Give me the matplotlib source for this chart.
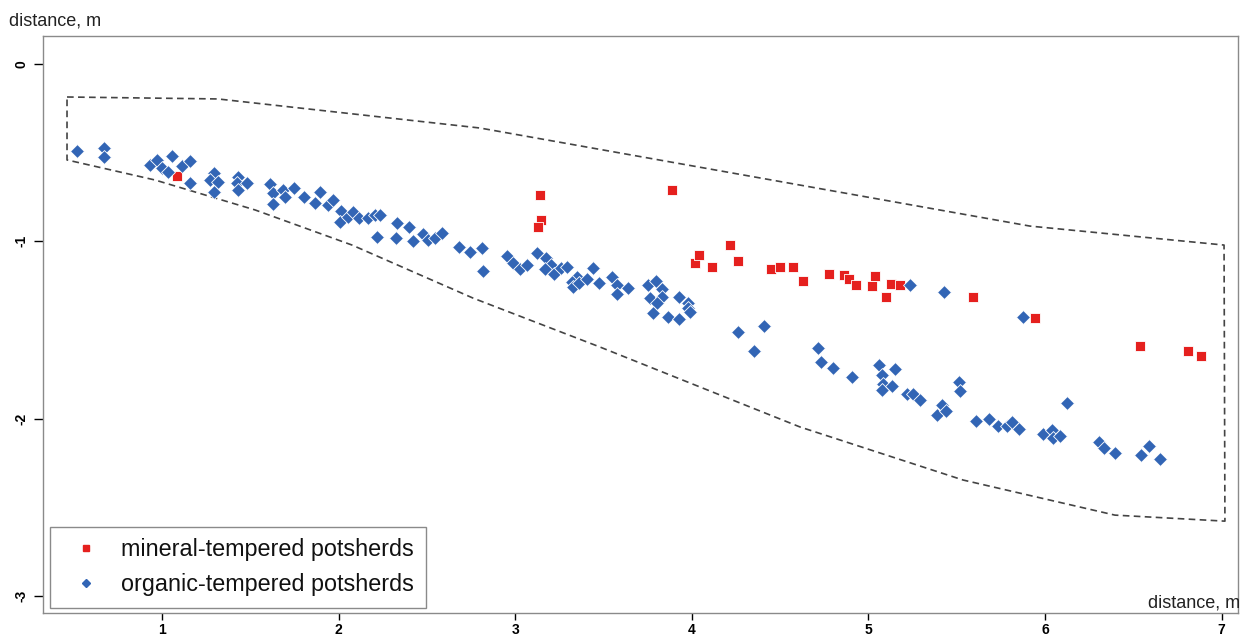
import matplotlib
matplotlib.use("Agg")
import matplotlib.pyplot as plt
from matplotlib.lines import Line2D

plt.rcParams['font.family'] = ['Liberation Sans', 'DejaVu Sans']

# organic-tempered potsherds (blue diamonds)
org_x = [0.517, 0.672, 0.673, 0.932, 0.970, 0.998, 1.055, 1.036, 1.112, 1.159, 1.157,
         1.296, 1.272, 1.319, 1.296, 1.432, 1.423, 1.480, 1.429, 1.612, 1.630, 1.687,
         1.696, 1.630, 1.749, 1.806, 1.895, 1.866, 1.940, 1.970, 2.016, 2.008, 2.055,
         2.083, 2.117, 2.168, 2.206, 2.234, 2.219, 2.329, 2.325, 2.400, 2.420, 2.476,
         2.505, 2.546, 2.584, 2.683, 2.744, 2.810, 2.816, 2.955, 2.989, 3.027, 3.065,
         3.125, 3.176, 3.204, 3.169, 3.218, 3.259, 3.292, 3.348, 3.320, 3.329, 3.363,
         3.405, 3.439, 3.476, 3.546, 3.575, 3.578, 3.640, 3.750, 3.797, 3.830, 3.763,
         3.830, 3.805, 3.782, 3.864, 3.929, 3.980, 3.980, 3.990, 3.929, 4.263, 4.351,
         4.411, 4.715, 4.730, 4.801, 4.907, 5.058, 5.075, 5.080, 5.075, 5.133, 5.152,
         5.220, 5.251, 5.290, 5.417, 5.390, 5.438, 5.511, 5.520, 5.609, 5.682, 5.735,
         5.783, 5.811, 5.854, 5.987, 6.038, 6.045, 6.085, 6.123, 6.305, 6.332, 6.398,
         6.542, 6.589, 6.651, 5.236, 5.428, 5.874]
org_y = [-0.489, -0.475, -0.522, -0.570, -0.541, -0.584, -0.519, -0.607, -0.575, -0.547, -0.673,
         -0.616, -0.654, -0.664, -0.720, -0.636, -0.673, -0.669, -0.711, -0.679, -0.729, -0.711,
         -0.752, -0.790, -0.701, -0.748, -0.719, -0.782, -0.795, -0.767, -0.829, -0.889, -0.863,
         -0.833, -0.870, -0.870, -0.852, -0.852, -0.974, -0.898, -0.980, -0.918, -0.997, -0.961,
         -0.993, -0.983, -0.955, -1.034, -1.059, -1.039, -1.168, -1.083, -1.121, -1.158, -1.134,
         -1.068, -1.096, -1.134, -1.158, -1.187, -1.152, -1.143, -1.200, -1.228, -1.256, -1.237,
         -1.213, -1.152, -1.237, -1.200, -1.246, -1.297, -1.262, -1.246, -1.222, -1.271, -1.321,
         -1.312, -1.350, -1.406, -1.425, -1.316, -1.346, -1.378, -1.397, -1.438, -1.509, -1.619,
         -1.479, -1.604, -1.679, -1.712, -1.765, -1.695, -1.752, -1.805, -1.839, -1.816, -1.722,
         -1.863, -1.862, -1.897, -1.923, -1.980, -1.956, -1.796, -1.843, -2.014, -2.001, -2.042,
         -2.039, -2.019, -2.060, -2.089, -2.064, -2.108, -2.098, -1.914, -2.132, -2.168, -2.194,
         -2.205, -2.155, -2.227, -1.248, -1.286, -1.425]

# mineral-tempered potsherds (red squares)
min_x = [1.082, 3.138, 3.146, 3.131, 3.886, 4.018, 4.042, 4.117, 4.215, 4.262, 4.450,
         4.499, 4.575, 4.631, 4.777, 4.863, 4.888, 4.930, 5.019, 5.037, 5.101, 5.128,
         5.181, 5.591, 5.945, 6.538, 6.811, 6.885]
min_y = [-0.630, -0.740, -0.878, -0.921, -0.711, -1.122, -1.078, -1.147, -1.023, -1.109, -1.157,
         -1.145, -1.147, -1.222, -1.182, -1.192, -1.210, -1.248, -1.251, -1.197, -1.312, -1.242,
         -1.248, -1.316, -1.435, -1.591, -1.619, -1.644]

# dashed boundary polygon
bound_x = [0.462, 1.317, 2.801, 5.915, 7.014, 7.019, 6.396, 5.536, 4.613, 3.480,
           2.761, 2.076, 1.527, 0.960, 0.462, 0.462]
bound_y = [-0.186, -0.197, -0.361, -0.914, -1.021, -2.578, -2.544, -2.346, -2.047, -1.596,
           -1.320, -1.021, -0.823, -0.654, -0.541, -0.186]

x_ticks = [1, 2, 3, 4, 5, 6, 7]
y_ticks = [0, -1, -2, -3]
labels = ["mineral-tempered potsherds", "organic-tempered potsherds"]

BLUE = "#3265B5"
RED = "#E5201E"

W, H = 1241, 636
fig = plt.figure(figsize=(W / 100, H / 100), dpi=100)
ax = fig.add_axes([43 / W, 1 - 613 / H, (1238 - 43) / W, (613 - 36) / H])

ax.plot(bound_x, bound_y, color="#444444", lw=1.2, linestyle=(0, (4, 2.6)), zorder=1)
ax.scatter(min_x, min_y, marker="s", s=60, color=RED, edgecolors="white",
           linewidths=0.6, zorder=2)
ax.scatter(org_x, org_y, marker="D", s=50, color=BLUE, edgecolors="white",
           linewidths=0.6, zorder=3)

ax.set_xlim(0.326, 7.093)
ax.set_ylim(-3.096, 0.158)

ax.set_xticks(x_ticks)
ax.set_xticklabels([str(v) for v in x_ticks], fontweight="bold", fontsize=10)
ax.set_yticks(y_ticks)
ax.set_yticklabels([str(v) for v in y_ticks], fontweight="bold", fontsize=10,
                   rotation=90, va="center")
ax.tick_params(axis="x", direction="out", length=5, width=1, pad=2.5, colors="black")
ax.tick_params(axis="y", direction="out", length=6.5, width=1, pad=4, colors="black")

for sp in ax.spines.values():
    sp.set_color("#8a8a8a")
    sp.set_linewidth(1.0)

fig.text(9 / W, 1 - 26 / H, "distance, m", fontsize=13, color="#222222",
         ha="left", va="baseline")
fig.text(1240 / W, 1 - 607 / H, "distance, m", fontsize=13, color="#222222",
         ha="right", va="baseline")

handles = [
    Line2D([], [], marker="s", linestyle="none", color=RED, markersize=5),
    Line2D([], [], marker="D", linestyle="none", color=BLUE, markersize=4.5),
]
leg = ax.legend(handles, labels, loc="lower left", bbox_to_anchor=(0.006, 0.009),
                fontsize=16.8, frameon=True, fancybox=False, framealpha=1,
                edgecolor="#8a8a8a", borderpad=0.5, labelspacing=0.5,
                handlelength=2.1, handletextpad=0.45, borderaxespad=0)
leg.get_frame().set_linewidth(1.0)
for t in leg.get_texts():
    t.set_color("#111111")

fig.savefig("out.png", dpi=100)
